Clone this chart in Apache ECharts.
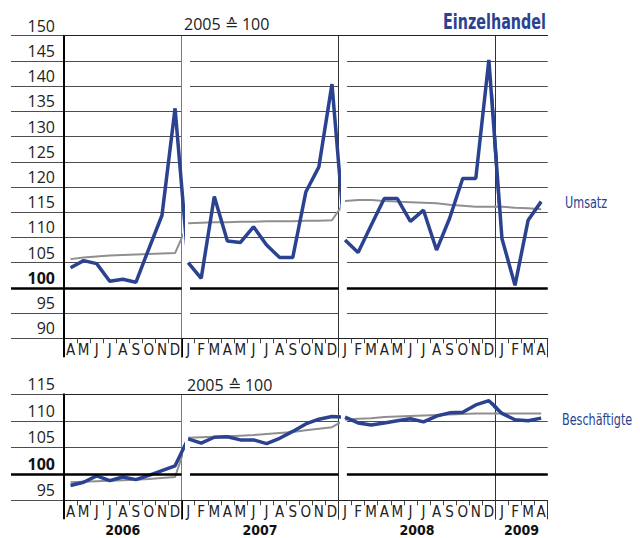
<!DOCTYPE html>
<html><head><meta charset="utf-8">
<script src="https://cdn.jsdelivr.net/npm/echarts@6/dist/echarts.min.js"></script>
<style>html,body{margin:0;padding:0;background:#fff}#c{width:640px;height:538px}</style>
</head><body><div id="c"></div>
<script>
// ---------------- data ----------------
const months2006 = ['A','M','J','J','A','S','O','N','D'];
const months2007 = ['J','F','M','A','M','J','J','A','S','O','N','D'];
const months2008 = ['J','F','M','A','M','J','J','A','S','O','N','D'];
const months2009 = ['J','F','M','A'];
const yearLabels = ['2006','2007','2008','2009'];

// Umsatz (blue) and comparison line (gray), 2005 = 100
const umsatz2006 = [104.0, 105.4, 104.8, 101.3, 101.7, 101.1, 107.8, 114.4, 135.6];
const umsatz2007 = [105.0, 101.9, 118.1, 109.3, 109.0, 112.1, 108.5, 106.0, 106.0, 119.0, 124.0, 140.4];
const umsatz2008 = [109.5, 107.0, 112.4, 117.7, 117.7, 113.2, 115.4, 107.5, 113.8, 121.7, 121.7, 145.2];
const umsatz2009 = [109.8, 100.5, 113.4, 117.1];
const umsatzGray2006 = [105.7, 106.0, 106.2, 106.4, 106.5, 106.6, 106.7, 106.8, 106.9];
const umsatzGray2007 = [112.8, 112.9, 113.0, 113.0, 113.1, 113.1, 113.2, 113.2, 113.2, 113.3, 113.3, 113.4];
const umsatzGray2008 = [117.2, 117.4, 117.4, 117.2, 117.1, 117.0, 116.9, 116.8, 116.5, 116.3, 116.1, 116.1];
const umsatzGray2009 = [116.1, 115.9, 115.8, 115.6];

// Beschäftigte (blue) and comparison line (gray)
const besch2006 = [97.8, 98.4, 99.6, 98.7, 99.4, 98.9, 99.7, 100.6, 101.5];
const besch2007 = [106.6, 105.8, 106.9, 107.0, 106.4, 106.4, 105.7, 106.7, 108.0, 109.4, 110.3, 110.8];
const besch2008 = [110.7, 109.6, 109.2, 109.6, 110.0, 110.4, 109.8, 110.9, 111.5, 111.6, 113.0, 113.8];
const besch2009 = [111.4, 110.2, 110.0, 110.5];
const beschGray2006 = [98.4, 98.5, 98.6, 98.7, 98.8, 98.9, 99.0, 99.2, 99.4];
const beschGray2007 = [106.8, 106.9, 107.0, 107.1, 107.2, 107.3, 107.5, 107.7, 107.9, 108.2, 108.5, 108.8];
const beschGray2008 = [110.2, 110.4, 110.5, 110.7, 110.8, 110.9, 111.0, 111.1, 111.2, 111.3, 111.4, 111.4];
const beschGray2009 = [111.4, 111.4, 111.4, 111.4];

const umsatzTicks = [90, 95, 100, 105, 110, 115, 120, 125, 130, 135, 140, 145, 150];
const beschTicks = [95, 100, 105, 110, 115];
const baseValue = 100;

// ---------------- styling / layout ----------------
const FONT = "'Open Sans', 'Noto Sans', sans-serif";
const NARROW = "'Liberation Sans Narrow', 'DejaVu Sans Condensed', 'Roboto', sans-serif";
const BLUE = '#2a4290', GRAYC = '#8f8f8f', GRIDC = '#4d4d4d', DARK = '#222';
const B = [64, 181.6, 338.5, 495.4, 547.7];   // section boundaries
const GAP = 8.4, LEFT_EXT = 11;

const grid = [], xAxis = [], yAxis = [], series = [];
const pairs = (vals, start) => vals.map((v, i) => [start + i, v]);

function addGrid(l, r, top, height) {
  grid.push({left: l, top: top, width: r - l, height: height, outerBoundsMode: 'none', containLabel: false});
  return grid.length - 1;
}

function build(panel) {
  const t = panel.ticks;
  const min = t[0], max = t[t.length - 1], interval = t[1] - t[0];
  // gridline panels (with gaps)
  [[LEFT_EXT, B[1]], [B[1] + GAP, B[2]], [B[2] + GAP, B[4]]].forEach(([l, r]) => {
    const g = addGrid(l, r, panel.top, panel.height);
    const xi = xAxis.length;
    xAxis.push({type: 'value', gridIndex: g, min: 0, max: 1, show: false});
    const yi = yAxis.length;
    yAxis.push({type: 'value', gridIndex: g, min, max, interval,
      axisLine: {show: false}, axisTick: {show: false}, axisLabel: {show: false},
      splitLine: {show: true, lineStyle: {color: GRIDC, width: 1, type: 'solid'}}});
    series.push({type: 'line', xAxisIndex: xi, yAxisIndex: yi, data: [], silent: true,
      markLine: {silent: true, symbol: 'none', animation: false, label: {show: false},
        lineStyle: {color: '#000', width: 2.5, type: 'solid'}, data: [{yAxis: baseValue}]}});
  });
  // data panels
  panel.segs.forEach((s, k) => {
    const g = addGrid(B[k], B[k + 1], panel.top, panel.height);
    const n = s.months.length;
    xAxis.push({type: 'category', gridIndex: g, position: 'bottom', data: s.months, boundaryGap: true,
      axisLine: {show: true, onZero: false, lineStyle: {color: DARK, width: 1}},
      axisTick: {show: true, interval: 0, length: 5, lineStyle: {color: '#444', width: 1}},
      axisLabel: {interval: 0, margin: 4, fontFamily: NARROW, fontSize: 15, color: '#222'},
      splitLine: {show: false}});
    const xv = xAxis.length;
    xAxis.push({type: 'value', gridIndex: g, position: 'top', min: -0.5, max: n - 0.5,
      axisLine: {show: true, onZero: false, lineStyle: {color: DARK, width: 1}},
      axisTick: {show: false}, axisLabel: {show: false}, splitLine: {show: false}});
    xAxis.push({type: 'category', gridIndex: g, position: 'bottom', data: [s.year], boundaryGap: true,
      axisLine: {show: false, onZero: false},
      axisTick: {show: true, length: 19, lineStyle: {color: k === 0 ? '#000' : '#333', width: k === 0 ? 2 : 1}},
      axisLabel: {show: panel.showYears, margin: 23, fontFamily: NARROW, fontWeight: 'bold',
        fontSize: 14, lineHeight: 14, color: '#111'},
      splitLine: {show: false}});
    const yi = yAxis.length;
    yAxis.push({type: 'value', gridIndex: g, min, max, interval,
      axisLine: {show: true, onZero: false,
        lineStyle: k === 0 ? {color: '#000', width: 2} : {color: k === 1 ? '#7a7a7a' : '#333', width: 1}},
      axisTick: {show: false}, splitLine: {show: false},
      axisLabel: k === 0 ? {show: true, margin: 9, fontFamily: FONT, fontSize: 16, color: '#222',
        verticalAlign: 'bottom', padding: [0, 0, 2, 0],
        formatter: v => v === baseValue ? '{b|' + v + '}' : String(v),
        rich: {b: {fontWeight: 'bold', fontFamily: FONT, fontSize: 16, color: '#111'}}} : {show: false}});
    s.lines.forEach(ln => series.push({type: 'line', xAxisIndex: xv, yAxisIndex: yi, data: ln.data,
      showSymbol: false, symbol: 'none', clip: true, silent: true, animation: false,
      lineStyle: {color: ln.color, width: ln.width}}));
  });
}

function segsFor(a6, a7, a8, a9, g6, g7, g8, g9) {
  return [
    {months: months2006, year: yearLabels[0], lines: [
      {data: pairs([...g6, g7[0]], 0), color: GRAYC, width: 2},
      {data: pairs([...a6, a7[0]], 0), color: BLUE, width: 3.5}]},
    {months: months2007, year: yearLabels[1], lines: [
      {data: pairs([...g7, g8[0]], 0), color: GRAYC, width: 2},
      {data: pairs([...a7, a8[0]], 0), color: BLUE, width: 3.5}]},
    {months: months2008, year: yearLabels[2], lines: [
      {data: pairs([...g8, g9[0]], 0), color: GRAYC, width: 2},
      {data: pairs([...a8, a9[0]], 0), color: BLUE, width: 3.5}]},
    {months: months2009, year: yearLabels[3], lines: [
      {data: pairs([g8[g8.length - 1], ...g9], -1), color: GRAYC, width: 2},
      {data: pairs([a8[a8.length - 1], ...a9], -1), color: BLUE, width: 3.5}]}
  ];
}

build({top: 35.7, height: 302.6, ticks: umsatzTicks, showYears: false,
  segs: segsFor(umsatz2006, umsatz2007, umsatz2008, umsatz2009,
                umsatzGray2006, umsatzGray2007, umsatzGray2008, umsatzGray2009)});
build({top: 394.3, height: 106, ticks: beschTicks, showYears: true,
  segs: segsFor(besch2006, besch2007, besch2008, besch2009,
                beschGray2006, beschGray2007, beschGray2008, beschGray2009)});

const chart = echarts.init(document.getElementById('c'), null, {renderer: 'svg', width: 640, height: 538});
chart.setOption({
  animation: false,
  backgroundColor: '#fff',
  grid, xAxis, yAxis, series,
  graphic: [
    {type: 'text', x: 546, y: 22, scaleX: 0.76, style: {text: 'Einzelhandel', fontFamily: NARROW, fontWeight: 'bold',
      fontSize: 21, fill: BLUE, align: 'right', verticalAlign: 'middle'}},
    {type: 'text', x: 184, y: 24, style: {text: '2005 ≙ 100', fontFamily: FONT, fontSize: 16, fill: '#222', verticalAlign: 'middle'}},
    {type: 'text', x: 187, y: 385, style: {text: '2005 ≙ 100', fontFamily: FONT, fontSize: 16, fill: '#222', verticalAlign: 'middle'}},
    {type: 'text', x: 565, y: 202, scaleX: 0.78, style: {text: 'Umsatz', fontFamily: NARROW, fontSize: 16, fill: BLUE, verticalAlign: 'middle'}},
    {type: 'text', x: 562, y: 419, scaleX: 0.78, style: {text: 'Beschäftigte', fontFamily: NARROW, fontSize: 16, fill: BLUE, verticalAlign: 'middle'}}
  ]
});
</script></body></html>
